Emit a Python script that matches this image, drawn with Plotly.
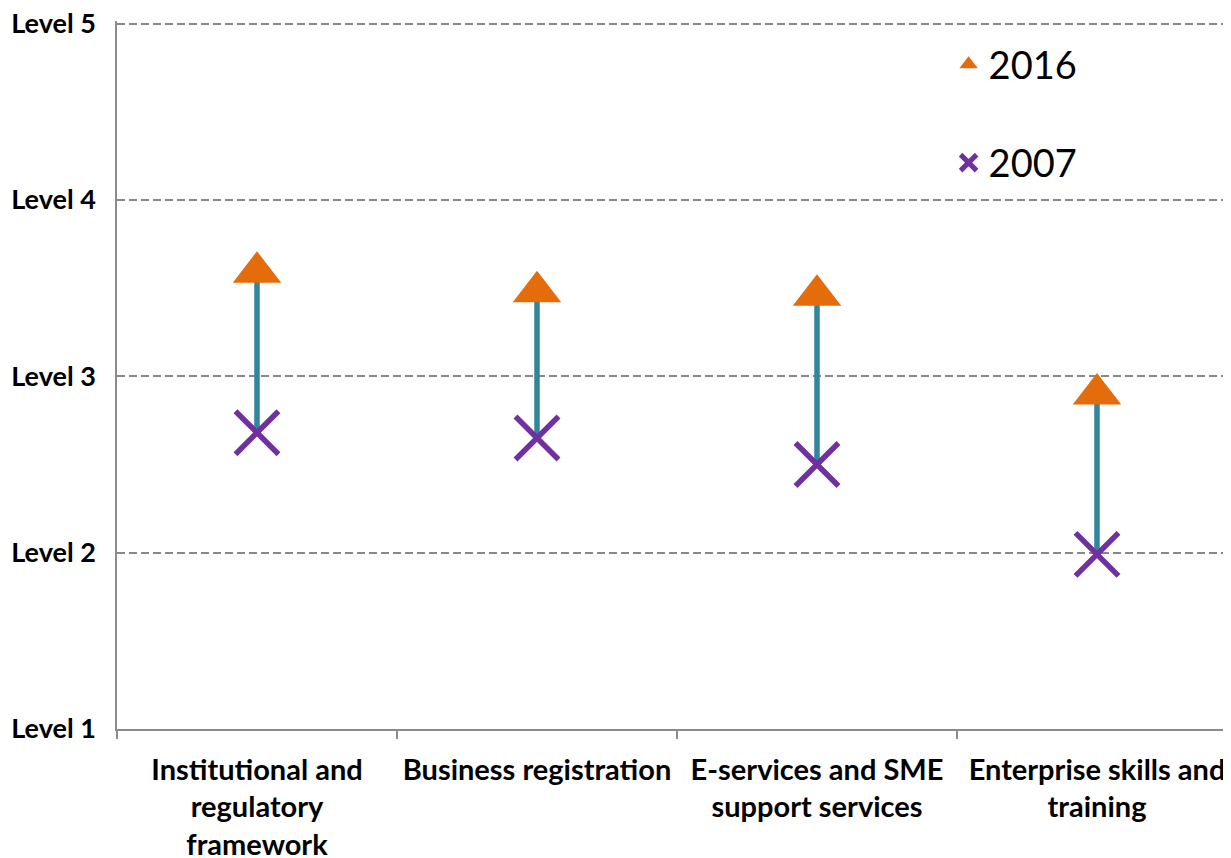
import plotly.graph_objects as go

# maturity levels per policy area
areas = ["Institutional and<br>regulatory<br>framework", "Business registration",
         "E-services and SME<br>support services", "Enterprise skills and<br>training"]
score_2016 = [3.59, 3.48, 3.46, 2.90]
score_2007 = [2.68, 2.65, 2.50, 1.99]
level_vals = [1, 2, 3, 4, 5]
level_text = ["Level 1", "Level 2", "Level 3", "Level 4", "Level 5"]

# connector lines from 2007 to 2016
lx, ly = [], []
for a, lo, hi in zip(areas, score_2007, score_2016):
    lx += [a, a, None]
    ly += [lo, hi, None]

fig = go.Figure()
fig.add_trace(go.Scatter(x=lx, y=ly, mode="lines", showlegend=False,
                         line=dict(color="#31859C", width=5.5), hoverinfo="skip"))
fig.add_trace(go.Scatter(x=areas, y=score_2016, mode="markers", name="2016",
                         legendgroup="a",
                         marker=dict(symbol="triangle-up", size=42, color="#E46C0A")))
fig.add_trace(go.Scatter(x=areas, y=score_2007, mode="markers", name="2007",
                         legendgroup="b",
                         marker=dict(symbol="x-thin", size=43, color="#7030A0",
                                     line=dict(width=5.5, color="#7030A0"))))

# page body has an 8px margin, so the margins are trimmed by that amount
fig.update_layout(
    width=1231, height=858,
    margin=dict(l=109, r=2, t=13, b=137),
    plot_bgcolor="white", paper_bgcolor="white",
    font=dict(family="Lato", color="black"),
    legend=dict(x=0.7425, y=0.983, xanchor="left", yanchor="top",
                font=dict(size=38), tracegroupgap=46, bgcolor="rgba(0,0,0,0)"),
)
fig.update_xaxes(type="category", range=[-0.5, 3.5], showgrid=False, automargin=False,
                 showline=True, linecolor="#8c8c8c", linewidth=1.5,
                 ticks="outside", tickson="boundaries", ticklen=8,
                 tickcolor="#8c8c8c", tickwidth=1.5, tickangle=0,
                 tickfont=dict(size=29, weight="bold"), ticklabelstandoff=14)
# top bound a hair above 5 so the Level 5 gridline is drawn
fig.update_yaxes(range=[1, 5.0145], tickvals=level_vals, ticktext=level_text, automargin=False,
                 showgrid=True, gridcolor="#888888", gridwidth=2.2, griddash="8px,4px",
                 showline=True, linecolor="#8c8c8c", linewidth=1.5, zeroline=False,
                 tickfont=dict(size=27, weight="bold"), ticklabelstandoff=14,
                 ticklabelshift=0, ticklabeloverflow="allow")

fig.write_html("out.html")
